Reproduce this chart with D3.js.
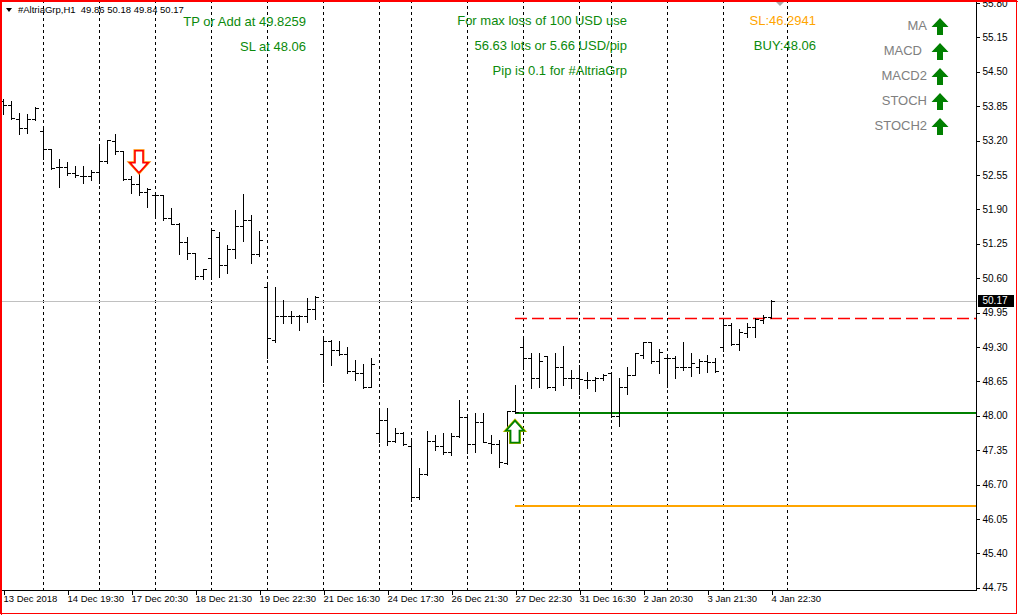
<!DOCTYPE html>
<html><head><meta charset="utf-8">
<script src="https://cdn.jsdelivr.net/npm/d3@7"></script>
<style>body{margin:0;background:#fff}svg{display:block}text{white-space:pre}</style>
</head><body><svg id="c" width="1018" height="615"></svg>
<script>
// ---------- data ----------
const opens=[53.95,53.87,53.61,53.43,53.61,53.39,53.05,52.70,52.70,52.59,52.53,52.53,52.61,52.81,53.19,53.01,52.47,52.37,52.23,52.18,52.17,51.74,51.62,51.28,51.07,50.64,50.98,51.38,50.85,51.16,51.59,51.70,51.05,50.43,49.44,49.88,49.88,49.88,49.88,50.01,49.16,49.41,49.24,49.16,48.85,48.81,48.54,47.67,47.92,47.53,47.67,47.43,46.47,46.90,47.53,47.43,47.32,47.62,47.98,47.47,47.89,47.49,47.47,47.11,48.08,49.29,49.09,48.71,49.12,48.55,48.93,48.71,48.71,48.68,48.68,48.71,48.80,47.99,48.55,48.77,49.15,49.40,49.04,49.09,49.09,48.93,48.93,48.93,49.04,49.02,49.29,49.71,49.36,49.57,49.67,49.80,49.86];
const highs=[53.99,53.95,53.72,53.70,53.84,53.41,53.05,52.85,52.80,52.72,52.72,52.64,53.12,53.22,53.32,53.01,52.53,52.61,52.30,52.19,52.17,51.92,51.64,51.38,51.07,50.77,51.52,51.48,51.23,51.89,52.19,51.79,51.49,50.49,50.44,50.19,49.98,49.90,50.22,50.26,49.46,49.43,49.42,49.30,49.05,48.98,49.09,48.14,48.15,47.76,47.70,47.55,47.01,47.71,47.64,47.67,47.67,48.30,48.00,48.05,48.05,47.64,47.54,48.09,48.59,49.47,49.18,49.19,49.13,49.18,49.32,48.86,48.96,48.83,48.73,48.79,48.81,48.71,48.93,49.19,49.40,49.40,49.26,49.15,49.12,49.40,49.19,49.07,49.15,49.09,49.82,49.75,49.63,49.75,49.84,49.90,50.18];
const lows=[53.70,53.60,53.32,53.34,53.58,52.85,52.66,52.33,52.55,52.51,52.39,52.45,52.39,52.78,52.94,52.45,52.21,52.17,51.94,51.79,51.70,51.62,51.05,50.96,50.58,50.58,50.58,50.63,50.70,50.99,51.30,50.88,51.02,49.10,49.40,49.76,49.76,49.62,49.78,49.83,48.64,48.96,49.15,48.80,48.67,48.52,48.54,47.50,47.45,47.50,47.45,46.39,46.42,46.88,47.35,47.28,47.26,47.60,47.29,47.32,47.51,47.30,47.04,47.08,48.06,48.88,48.53,48.55,48.53,48.49,48.58,48.53,48.42,48.53,48.47,48.67,47.98,47.81,48.41,48.77,49.09,48.99,48.81,48.54,48.71,48.86,48.75,48.81,48.83,48.83,49.23,49.34,49.24,49.49,49.49,49.75,49.84];
const closes=[53.87,53.63,53.43,53.61,53.81,53.05,52.68,52.70,52.59,52.55,52.53,52.61,52.81,53.21,53.01,52.47,52.37,52.23,52.28,52.17,51.74,51.62,51.28,51.07,50.64,50.77,51.51,50.85,51.16,51.59,51.70,51.05,51.32,49.46,49.88,49.88,49.88,49.88,50.01,50.25,49.41,49.24,49.16,48.85,48.81,48.54,48.97,47.92,47.53,47.67,47.47,46.47,46.90,47.53,47.43,47.32,47.62,47.98,47.47,47.89,47.51,47.47,47.13,48.09,48.07,49.09,48.71,49.04,48.55,48.93,48.71,48.71,48.69,48.68,48.71,48.77,47.99,48.55,48.77,49.18,49.40,49.04,49.21,49.09,48.93,48.93,49.00,49.04,49.02,48.85,49.71,49.36,49.59,49.67,49.82,49.87,50.17];
const xLabelIdx=[0,8,16,24,32,40,48,56,64,72,80,88,96];
const xLabels=["13 Dec 2018","14 Dec 19:30","17 Dec 20:30","18 Dec 21:30","19 Dec 22:30","21 Dec 16:30","24 Dec 17:30","26 Dec 21:30","27 Dec 22:30","31 Dec 16:30","2 Jan 20:30","3 Jan 21:30","4 Jan 22:30"];
const separators=[5,12,19,26,33,40,47,51,58,65,72,76,83,90,98];
const yTicks=[44.75,45.40,46.05,46.70,47.35,48.00,48.65,49.30,49.95,50.60,51.25,51.90,52.55,53.20,53.85,54.50,55.15,55.80];
const headerText="#AltriaGrp,H1  49.86 50.18 49.84 50.17";
const curPrice=50.17, tpPrice=49.8259, buyPrice=48.06, slPrice=46.2941;
const sellSignal=17, buySignal=64;
const indicators=["MA","MACD","MACD2","STOCH","STOCH2"];
const infoLeft=["TP or Add at 49.8259","SL at 48.06"];
const infoMid=["For max loss of 100 USD use","56.63 lots or 5.66 USD/pip","Pip is 0.1 for #AltriaGrp"];
const infoRight=[["SL:46.2941","#ffa500"],["BUY:48.06","#0b8a0b"]];

// ---------- drawing ----------
const svg=d3.select("#c");
const W=1018,H=615;
const FONT="'Liberation Sans', Arial, sans-serif";
const GREEN="#0b8a0b";
const x=d3.scaleLinear().domain([0,96]).range([3.5,771.5]);
const y=d3.scaleLinear().domain([44.75,55.80]).range([587.7,3]);
const py=v=>Math.round(y(v))+0.5;

svg.append("rect").attr("width",W).attr("height",H).attr("fill","#fff");
svg.append("defs").append("clipPath").attr("id","plot")
  .append("rect").attr("x",0).attr("y",0).attr("width",976).attr("height",590);
const g=svg.append("g").attr("clip-path","url(#plot)");

// period separators
g.selectAll(".sep").data(separators).join("line")
  .attr("x1",d=>x(d)).attr("x2",d=>x(d)).attr("y1",0).attr("y2",590)
  .attr("stroke","#000").attr("stroke-dasharray","3,3").attr("shape-rendering","crispEdges");

// current price line
g.append("line").attr("x1",0).attr("x2",976).attr("y1",py(curPrice)).attr("y2",py(curPrice))
  .attr("stroke","#c0c0c0").attr("shape-rendering","crispEdges");

// trade lines
const x0=x(buySignal)-0.5;
g.append("line").attr("x1",x0).attr("x2",976).attr("y1",Math.round(y(tpPrice))-0.5).attr("y2",Math.round(y(tpPrice))-0.5)
  .attr("stroke","#ff0000").attr("stroke-width",1.3).attr("stroke-dasharray","12,5");
g.append("line").attr("x1",x0).attr("x2",976).attr("y1",Math.round(y(buyPrice))).attr("y2",Math.round(y(buyPrice)))
  .attr("stroke","#008000").attr("stroke-width",2).attr("shape-rendering","crispEdges");
g.append("line").attr("x1",x0).attr("x2",976).attr("y1",Math.round(y(slPrice))).attr("y2",Math.round(y(slPrice)))
  .attr("stroke","#ffa500").attr("stroke-width",2).attr("shape-rendering","crispEdges");

// OHLC bars
const idx=d3.range(opens.length);
const bg=g.append("g").attr("stroke","#000").attr("shape-rendering","crispEdges");
bg.selectAll(".hl").data(idx).join("line")
  .attr("x1",i=>x(i)).attr("x2",i=>x(i))
  .attr("y1",i=>Math.round(y(highs[i]))).attr("y2",i=>Math.round(y(lows[i]))+1);
bg.selectAll(".op").data(idx).join("line")
  .attr("x1",i=>x(i)-3.5).attr("x2",i=>x(i))
  .attr("y1",i=>py(opens[i])).attr("y2",i=>py(opens[i]));
bg.selectAll(".cl").data(idx).join("line")
  .attr("x1",i=>x(i)).attr("x2",i=>x(i)+3.5)
  .attr("y1",i=>py(closes[i])).attr("y2",i=>py(closes[i]));

// signal arrows
(function(){
  const cx=x(sellSignal)-0.5, ty=y(highs[sellSignal])+1;
  const p=`M${cx},${ty}L${cx+9},${ty-10}L${cx+4},${ty-10}L${cx+4},${ty-22}L${cx-4},${ty-22}L${cx-4},${ty-10}L${cx-9},${ty-10}Z`;
  g.append("path").attr("d",p).attr("fill","#fff").attr("stroke","#ff8a00").attr("stroke-width",3).attr("stroke-linejoin","miter");
  g.append("path").attr("d",p).attr("fill","#fff").attr("stroke","#ff0000").attr("stroke-width",1.6).attr("stroke-linejoin","miter");
})();
(function(){
  const cx=x(buySignal)-0.5, ty=y(lows[buySignal])+8;
  const p=`M${cx},${ty}L${cx+9},${ty+10}L${cx+4.5},${ty+10}L${cx+4.5},${ty+22}L${cx-4.5},${ty+22}L${cx-4.5},${ty+10}L${cx-9},${ty+10}Z`;
  g.append("path").attr("d",p).attr("fill","#fff").attr("stroke","#d8c800").attr("stroke-width",3);
  g.append("path").attr("d",p).attr("fill","#fff").attr("stroke","#008000").attr("stroke-width",1.8);
})();

// frame
svg.append("line").attr("x1",976.5).attr("x2",976.5).attr("y1",0).attr("y2",591).attr("stroke","#000");
svg.append("line").attr("x1",0).attr("x2",977).attr("y1",590.5).attr("y2",590.5).attr("stroke","#000");

// right axis
const ya=d3.axisRight(y).tickValues(yTicks).tickSize(3).tickFormat(d3.format(".2f"));
const yag=svg.append("g").attr("transform","translate(976.5,0)").call(ya);
yag.select(".domain").remove();
yag.selectAll(".tick line").attr("stroke","#000").attr("shape-rendering","crispEdges");
yag.selectAll(".tick text").attr("x",6).attr("fill","#000").style("font-family",FONT).style("font-size","10px");

// current price label
svg.append("rect").attr("x",978).attr("y",Math.round(y(curPrice))-6).attr("width",36).attr("height",12).attr("fill","#000");
svg.append("text").attr("x",982.5).attr("y",y(curPrice)).attr("dy","0.35em").attr("fill","#fff")
  .style("font-family",FONT).style("font-size","10px").text(d3.format(".2f")(curPrice));

// bottom axis
const xa=d3.axisBottom(x).tickValues(xLabelIdx).tickSize(4).tickFormat((d,i)=>xLabels[i]);
const xag=svg.append("g").attr("transform","translate(0,591)").call(xa);
xag.select(".domain").remove();
xag.selectAll(".tick line").attr("stroke","#000").attr("shape-rendering","crispEdges");
xag.selectAll(".tick text").attr("text-anchor","start").attr("x",-0.5).attr("y",4).attr("dy","0.71em")
  .attr("fill","#000").style("font-family",FONT).style("font-size","9.5px");

// header
svg.append("path").attr("d","M6,8L12,8L9,12Z").attr("fill","#000");
svg.append("text").attr("x",18).attr("y",13).attr("fill","#000")
  .style("font-family",FONT).style("font-size","9.5px").text(headerText);

// chart shift marker
svg.append("path").attr("d","M775,1L785,1L780,6Z").attr("fill","#a8a8a8");

// info texts
infoLeft.forEach((t,i)=>svg.append("text").attr("x",306).attr("y",25.5+i*25).attr("text-anchor","end")
  .attr("fill",GREEN).style("font-family",FONT).style("font-size","13px").text(t));
infoMid.forEach((t,i)=>svg.append("text").attr("x",627).attr("y",25+i*25).attr("text-anchor","end")
  .attr("fill",GREEN).style("font-family",FONT).style("font-size","13px").text(t));
infoRight.forEach((t,i)=>svg.append("text").attr("x",816).attr("y",25+i*25).attr("text-anchor","end")
  .attr("fill",t[1]).style("font-family",FONT).style("font-size","13px").text(t[0]));

// indicator panel
indicators.forEach((t,i)=>{
  svg.append("text").attr("x",t==="MACD"?922:927).attr("y",30+i*25).attr("text-anchor","end")
    .attr("fill","#808080").style("font-family",FONT).style("font-size","13px").text(t);
  const cx=940, ty=18+i*25;
  svg.append("path").attr("d",`M${cx},${ty}L${cx+8.5},${ty+9}L${cx+3},${ty+9}L${cx+3},${ty+17}L${cx-3},${ty+17}L${cx-3},${ty+9}L${cx-8.5},${ty+9}Z`)
    .attr("fill","#008000");
});

// outer red border
svg.append("rect").attr("x",0.5).attr("y",0.5).attr("width",1016).attr("height",613)
  .attr("fill","none").attr("stroke","#ff0000");
svg.append("line").attr("x1",0).attr("x2",1018).attr("y1",1.5).attr("y2",1.5).attr("stroke","#ff0000");
svg.append("line").attr("x1",1.5).attr("x2",1.5).attr("y1",0).attr("y2",615).attr("stroke","#ff0000");
</script></body></html>
